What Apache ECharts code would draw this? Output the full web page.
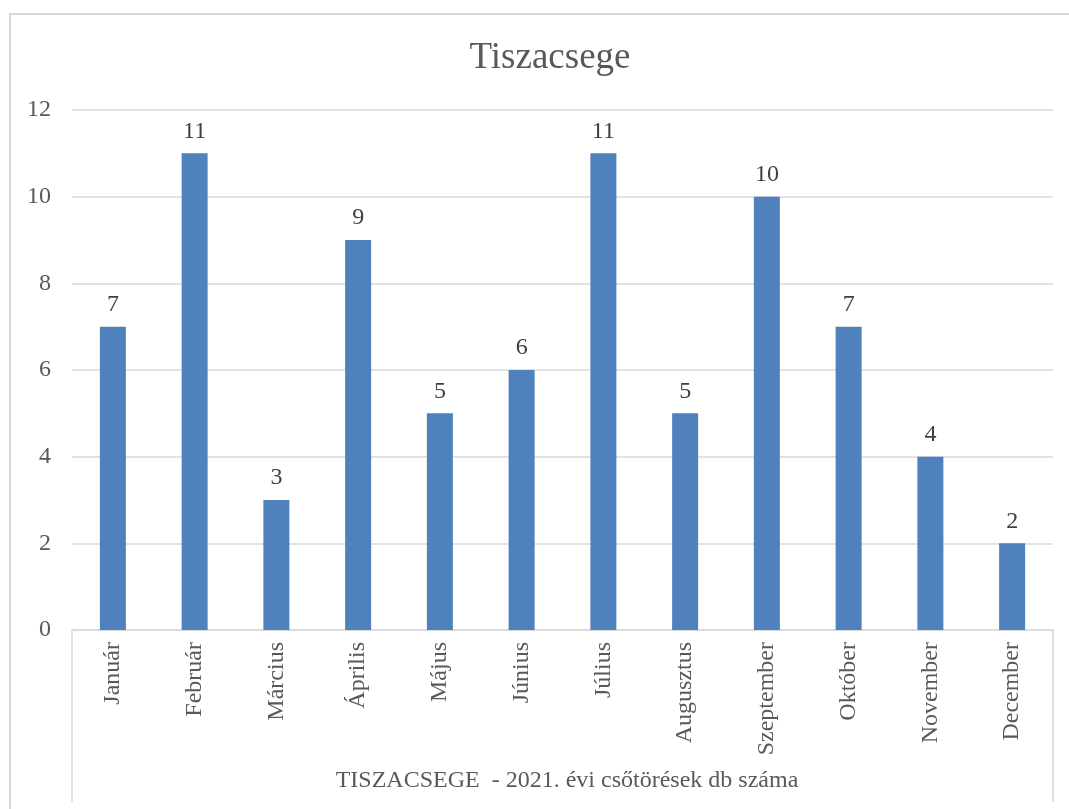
<!DOCTYPE html>
<html>
<head>
<meta charset="utf-8">
<script src="https://cdn.jsdelivr.net/npm/echarts@6/dist/echarts.min.js"></script>
<style>html,body{margin:0;padding:0;background:#fff}#c{width:1069px;height:809px}</style>
</head>
<body>
<div id="c"></div>
<script>
const categories = ['Január','Február','Március','Április','Május','Június','Július','Augusztus','Szeptember','Október','November','December'];
const values = [7, 11, 3, 9, 5, 6, 11, 5, 10, 7, 4, 2];
const yTicks = { min: 0, max: 12, interval: 2 };
const titleText = 'Tiszacsege';
const axisTitle = 'TISZACSEGE  - 2021. évi csőtörések db száma';

const FONT = '"Liberation Serif", "Times New Roman", serif';
const GRAY = '#595959';
const chart = echarts.init(document.getElementById('c'), null, { renderer: 'canvas' });
chart.setOption({
  backgroundColor: '#fff',
  animation: false,
  graphic: [{
    type: 'rect', shape: { x: 10, y: 14, width: 1080, height: 820 },
    style: { fill: 'none', stroke: '#d9d9d9', lineWidth: 2 }, silent: true, z: -1
  }],
  title: [{
    text: titleText, left: 545, textAlign: 'center', top: 35,
    textStyle: { fontFamily: FONT, fontSize: 37, fontWeight: 'normal', color: GRAY }
  }, {
    text: axisTitle, left: 562, textAlign: 'center', top: 764,
    textStyle: { fontFamily: FONT, fontSize: 24, fontWeight: 'normal', color: GRAY }
  }],
  grid: { left: 72, right: 16, top: 110, bottom: 179 },
  xAxis: [{
    type: 'category', data: categories,
    axisLine: { show: true, lineStyle: { color: '#d9d9d9', width: 1.5 } },
    axisTick: { show: false },
    axisLabel: { rotate: 90, margin: 12, fontFamily: FONT, fontSize: 24, color: GRAY, interval: 0 }
  }, {
    type: 'category', data: [''], position: 'bottom',
    axisLine: { show: false },
    axisTick: { show: true, length: 172, lineStyle: { color: '#d9d9d9', width: 1.5 } },
    axisLabel: { show: false }
  }],
  yAxis: {
    type: 'value', min: yTicks.min, max: yTicks.max, interval: yTicks.interval,
    axisLine: { show: false }, axisTick: { show: false },
    splitLine: { lineStyle: { color: '#d9d9d9', width: 1.5 } },
    axisLabel: { margin: 21, fontFamily: FONT, fontSize: 24, color: GRAY }
  },
  series: [{
    type: 'bar', data: values, xAxisIndex: 0, barWidth: 26,
    itemStyle: { color: '#4f81bd' },
    label: { show: true, position: 'top', distance: 10, fontFamily: FONT, fontSize: 24, color: '#404040' }
  }]
});
</script>
</body>
</html>
